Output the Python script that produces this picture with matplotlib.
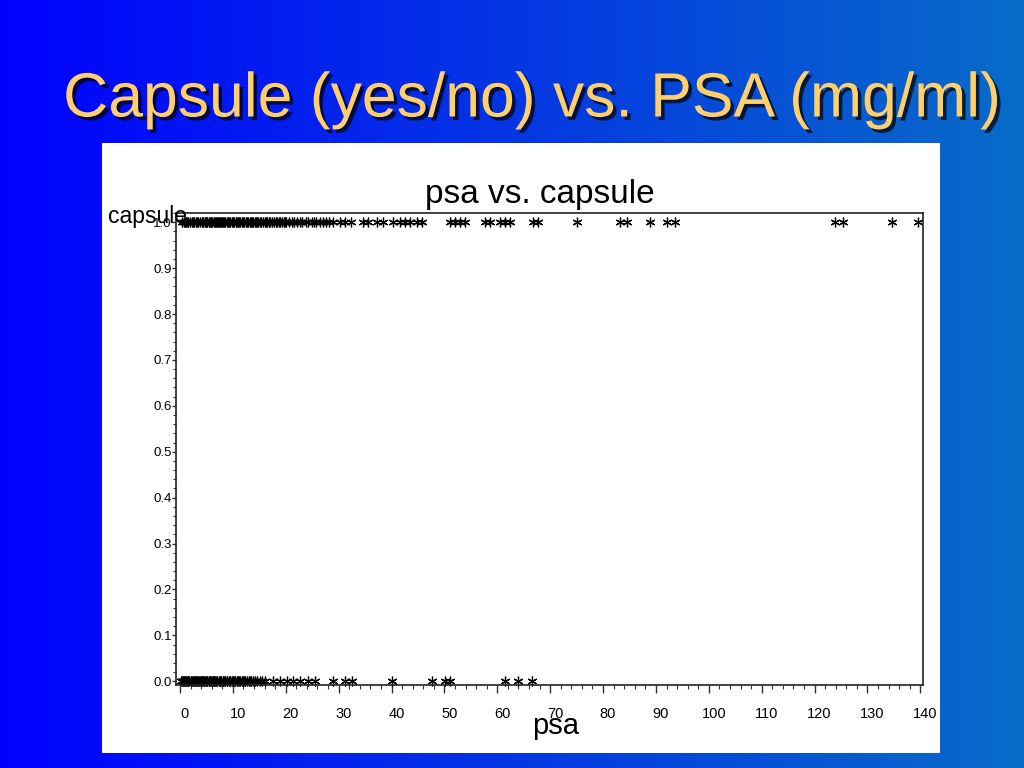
import matplotlib
matplotlib.use("Agg")
import matplotlib.pyplot as plt
import matplotlib.patheffects as pe
from matplotlib.patches import Rectangle
from matplotlib.ticker import MultipleLocator
import matplotlib.transforms as mtransforms
import numpy as np

# ---- data ----
psa_capsule_yes = [0.4, 0.7, 0.9, 1.1, 1.3, 1.6, 1.9, 2.2, 2.5, 2.7, 3.1, 3.3, 3.5, 3.8, 4.1,
                   4.3, 4.4, 4.7, 4.9, 5.0, 5.2, 5.4, 5.6, 5.8, 6.0, 6.1, 6.4, 6.6, 6.8, 7.0,
                   7.2, 7.3, 7.5, 7.7, 7.9, 8.2, 8.4, 8.6, 8.9, 9.1, 9.3, 9.5, 9.8, 10.0, 10.3,
                   10.6, 10.8, 10.9, 11.2, 11.4, 11.7, 11.9, 12.1, 12.4, 12.7, 12.9, 13.2, 13.4,
                   13.6, 13.9, 14.1, 14.4, 14.6, 14.8, 15.1, 15.3, 15.7, 16.0, 16.2, 16.5, 16.9,
                   17.1, 17.4, 17.8, 18.1, 18.4, 18.7, 19.0, 19.2, 19.6, 19.9, 20.1, 20.6, 21.2,
                   21.5, 22.1, 22.7, 23.0, 23.8, 24.2, 24.9, 25.4, 25.8, 26.5, 27.0, 27.6, 28.2,
                   28.9, 30.2, 31.2, 32.3, 34.6, 35.5, 37.2, 38.4, 40.3, 41.6, 42.5, 43.5, 44.8,
                   45.7, 51.0, 52.0, 52.9, 53.9, 57.7, 58.6, 60.5, 61.4, 62.4, 66.7, 67.7, 75.0,
                   83.2, 84.5, 88.8, 92.1, 93.6, 123.8, 125.3, 134.6, 139.5]
psa_capsule_no = [0.2, 0.3, 0.5, 0.6, 0.7, 0.9, 1.0, 1.2, 1.3, 1.5, 1.6, 1.8, 2.0, 2.1, 2.3,
                  2.4, 2.6, 2.8, 2.9, 3.1, 3.3, 3.4, 3.6, 3.8, 3.9, 4.1, 4.2, 4.4, 4.6, 4.7,
                  4.9, 5.1, 5.2, 5.4, 5.5, 5.7, 5.9, 6.0, 6.2, 6.4, 6.5, 6.7, 6.9, 7.0, 7.3,
                  7.5, 7.6, 7.8, 8.1, 8.2, 8.4, 8.6, 8.8, 8.9, 9.2, 9.4, 9.5, 9.8, 10.1, 10.3,
                  10.4, 10.7, 11.0, 11.2, 11.3, 11.7, 12.0, 12.2, 12.3, 12.7, 13.0, 13.2, 13.4,
                  13.8, 14.2, 14.6, 15.1, 15.6, 16.1, 17.6, 18.9, 20.2, 21.4, 22.7, 24.2, 25.5,
                  28.9, 31.2, 32.5, 40.1, 47.6, 50.1, 51.0, 61.4, 63.9, 66.5]
capsule_yes_value = 1.0
capsule_no_value = 0.0
x_ticks = [0, 10, 20, 30, 40, 50, 60, 70, 80, 90, 100, 110, 120, 130, 140]
y_ticks = [0.0, 0.1, 0.2, 0.3, 0.4, 0.5, 0.6, 0.7, 0.8, 0.9, 1.0]

W, H = 1024, 768
fig = plt.figure(figsize=(W / 100, H / 100), dpi=100)

def fx(px):
    return px / W

def fy(py):
    return 1 - py / H

# background gradient
bg = fig.add_axes([0, 0, 1, 1], zorder=-10)
bg.set_axis_off()
grad = np.linspace(0, 1, 256)
c0 = np.array([0, 0, 255]) / 255
c1 = np.array([8, 108, 200]) / 255
img = np.zeros((2, 256, 3))
for i in range(3):
    img[:, :, i] = c0[i] + (c1[i] - c0[i]) * grad
bg.imshow(img, aspect="auto", extent=[0, 1, 0, 1])
bg.set_xlim(0, 1)
bg.set_ylim(0, 1)

# white panel
fig.patches.append(Rectangle((fx(102), fy(753)), fx(940) - fx(102), fy(143) - fy(753),
                             transform=fig.transFigure, facecolor="white",
                             edgecolor="none", zorder=-5))

# slide title
fig.text(fx(532), fy(100), "Capsule (yes/no) vs. PSA (mg/ml)",
         ha="center", va="center", fontsize=45, color="#FFCF6E",
         family=["Liberation Sans", "DejaVu Sans"],
         path_effects=[pe.SimplePatchShadow(offset=(2.5, -2.5), shadow_rgbFace="black", alpha=0.7),
                       pe.Normal()])

# chart axes
ax = fig.add_axes([fx(176), fy(685), fx(923) - fx(176), fy(213) - fy(685)])
ax.set_facecolor("white")
star = (6, 2, 0)
ax.plot(psa_capsule_yes, [capsule_yes_value] * len(psa_capsule_yes), linestyle="none",
        marker=star, markersize=7, markeredgewidth=0.9, color="black", clip_on=False)
ax.plot(psa_capsule_no, [capsule_no_value] * len(psa_capsule_no), linestyle="none",
        marker=star, markersize=7, markeredgewidth=0.9, color="black", clip_on=False)

ax.set_xlim(-0.75, 140.5)
ax.set_ylim(-0.008, 1.02)
ax.set_xticks(x_ticks)
ax.set_yticks(y_ticks)
ax.set_xticklabels([str(t) for t in x_ticks], fontsize=10.5, family="Liberation Sans")
ax.set_yticklabels([f"{t:.1f}" for t in y_ticks], fontsize=9.5, family="Liberation Sans")
ax.xaxis.set_minor_locator(MultipleLocator(2))
ax.yaxis.set_minor_locator(MultipleLocator(0.02))
ax.tick_params(axis="x", which="major", direction="out", length=5.5, width=1, pad=10,
               color="#333333")
ax.tick_params(axis="x", which="minor", direction="out", length=3, width=0.8, color="#333333")
ax.tick_params(axis="y", which="major", direction="out", length=3, width=1, pad=0,
               color="#333333")
ax.tick_params(axis="y", which="minor", direction="out", length=2, width=0.8, color="#333333")
shift = mtransforms.ScaledTranslation(5 / 100, 0, fig.dpi_scale_trans)
for lbl in ax.get_xticklabels():
    lbl.set_transform(lbl.get_transform() + shift)
for s in ax.spines.values():
    s.set_linewidth(1.2)
    s.set_color("#222222")

fig.text(fx(540), fy(194), "psa vs. capsule", ha="center", va="center", fontsize=24,
         family="Liberation Sans", color="black")
fig.text(fx(108), fy(217), "capsule", ha="left", va="center", fontsize=16.5,
         family="Liberation Sans", color="black")
fig.text(fx(556), fy(726), "psa", ha="center", va="center", fontsize=21,
         family="Liberation Sans", color="black")

fig.savefig("out.png", dpi=100)
